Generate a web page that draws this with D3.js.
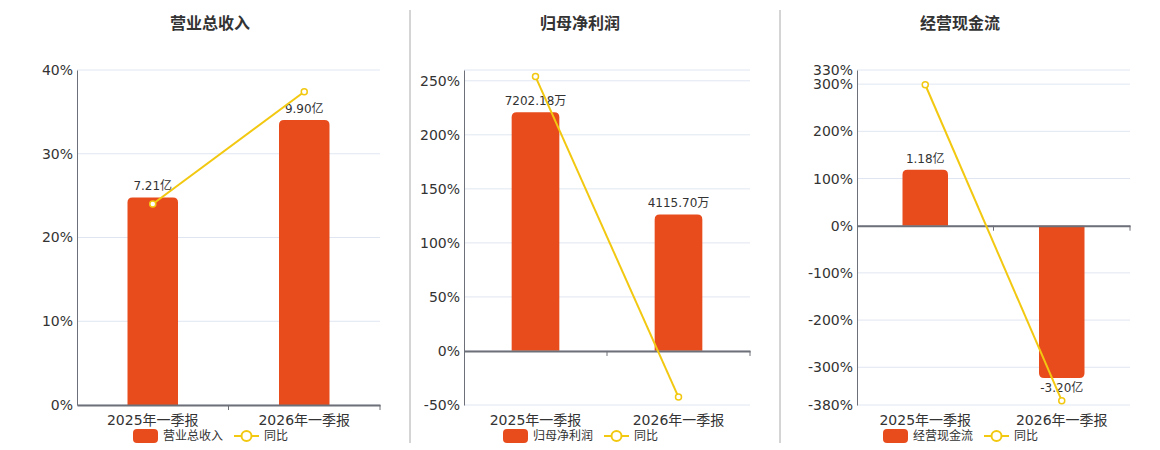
<!DOCTYPE html>
<html>
<head>
<meta charset="utf-8">
<script src="https://cdn.jsdelivr.net/npm/d3@7"></script>
<style>
  body { margin: 0; background: #fff; }
  svg { display: block; font-family: "DejaVu Sans", "Noto Sans CJK SC", sans-serif; }
</style>
</head>
<body>
<svg id="chart" width="1160" height="450"></svg>
<script>
// data
const categories = ['2025年一季报', '2026年一季报']
const titles = ['营业总收入', '归母净利润', '经营现金流']
const yoyName = '同比'

const revenueValues = [7.21, 9.90]
const revenueLabels = ['7.21亿', '9.90亿']
const revenueYoY = [24.0, 37.4]
const revenueTicks = [0, 10, 20, 30, 40]

const profitValues = [7202.18, 4115.70]
const profitLabels = ['7202.18万', '4115.70万']
const profitYoY = [253.9, -42.7]
const profitTicks = [-50, 0, 50, 100, 150, 200, 250]

const cashValues = [1.18, -3.20]
const cashLabels = ['1.18亿', '-3.20亿']
const cashYoY = [298.7, -370.9]
const cashTicks = [-380, -300, -200, -100, 0, 100, 200, 300, 330]

const BAR = '#e84c1d'
const LINE = '#f2c811'
const GRID = '#e0e6f1'
const AXIS = '#6e7079'
const TEXT = '#333'

const svg = d3.select('#chart')

// panel layout
const panels = [
	{ title: titles[0], values: revenueValues, labels: revenueLabels, yoy: revenueYoY, ticks: revenueTicks,
		pct: [0, 40], bar: [0, 11.64], x0: 77, x1: 380, cx: 210 },
	{ title: titles[1], values: profitValues, labels: profitLabels, yoy: profitYoY, ticks: profitTicks,
		pct: [-50, 260], bar: [-1640, 8475], x0: 464, x1: 750, cx: 580 },
	{ title: titles[2], values: cashValues, labels: cashLabels, yoy: cashYoY, ticks: cashTicks,
		pct: [-380, 330], bar: [-3.77, 3.28], x0: 857, x1: 1130, cx: 960 }
]
const plotTop = 70, plotBottom = 405

// separators
;[410, 780].forEach(x => {
	svg.append('line')
		.attr('x1', x).attr('x2', x).attr('y1', 10).attr('y2', 443)
		.attr('stroke', '#aaa').attr('stroke-width', 1)
})

function barPath(x, w, y0, y1, r) {
	// rounded on the far end from zero
	if (y1 < y0) {
		return `M${x},${y0}V${y1 + r}Q${x},${y1} ${x + r},${y1}H${x + w - r}Q${x + w},${y1} ${x + w},${y1 + r}V${y0}Z`
	}
	return `M${x},${y0}V${y1 - r}Q${x},${y1} ${x + r},${y1}H${x + w - r}Q${x + w},${y1} ${x + w},${y1 - r}V${y0}Z`
}

panels.forEach(p => {
	let g = svg.append('g')

	let x = d3.scaleBand().domain(categories).range([p.x0, p.x1]).paddingInner(0).paddingOuter(0)
	let yP = d3.scaleLinear().domain(p.pct).range([plotBottom, plotTop])
	let yB = d3.scaleLinear().domain(p.bar).range([plotBottom, plotTop])

	// title
	g.append('text')
		.attr('x', p.cx).attr('y', 29)
		.attr('text-anchor', 'middle')
		.attr('font-size', 16).attr('font-weight', 'bold')
		.attr('fill', TEXT)
		.text(p.title)

	// grid
	g.append('g')
		.selectAll('line')
		.data(p.ticks.concat(p.pct[1] !== p.ticks[p.ticks.length - 1] ? [p.pct[1]] : []))
		.join('line')
			.attr('x1', p.x0).attr('x2', p.x1)
			.attr('y1', d => yP(d)).attr('y2', d => yP(d))
			.attr('stroke', GRID)

	// y axis
	let yAxis = g.append('g')
		.attr('transform', `translate(${p.x0},0)`)
		.call(d3.axisLeft(yP).tickValues(p.ticks).tickFormat(d => d + '%').tickSize(0).tickPadding(4))
		.attr('font-family', null)
		.attr('font-size', 14)
	yAxis.select('.domain').attr('stroke', AXIS)
	yAxis.selectAll('text').attr('fill', TEXT)

	// bars
	let bw = x.bandwidth() / 3
	g.append('g')
		.selectAll('path')
		.data(p.values)
		.join('path')
			.attr('d', (d, i) => barPath(x(categories[i]) + (x.bandwidth() - bw) / 2, bw, yB(0), yB(d), 5))
			.attr('fill', BAR)

	// bar labels
	g.append('g')
		.attr('font-size', 12).attr('fill', TEXT).attr('text-anchor', 'middle')
		.selectAll('text')
		.data(p.values)
		.join('text')
			.attr('x', (d, i) => x(categories[i]) + x.bandwidth() / 2)
			.attr('y', d => d >= 0 ? yB(d) - 7 : yB(d) + 14)
			.text((d, i) => p.labels[i])

	// x axis at zero
	let xAxis = g.append('g')
		.attr('transform', `translate(0,${yP(0)})`)
		.call(d3.axisBottom(x).tickSize(0).tickFormat(''))
	xAxis.select('.domain').attr('stroke', AXIS).attr('stroke-width', 2)
	g.append('g')
		.selectAll('line')
		.data([x(categories[1]), p.x1])
		.join('line')
			.attr('x1', d => d).attr('x2', d => d)
			.attr('y1', yP(0)).attr('y2', yP(0) + 5)
			.attr('stroke', AXIS)

	// category labels
	g.append('g')
		.attr('font-size', 14).attr('fill', TEXT).attr('text-anchor', 'middle')
		.selectAll('text')
		.data(categories)
		.join('text')
			.attr('x', d => x(d) + x.bandwidth() / 2)
			.attr('y', 425)
			.text(d => d)

	// yoy line
	let line = d3.line()
		.x((d, i) => x(categories[i]) + x.bandwidth() / 2)
		.y(d => yP(d))
	g.append('path')
		.datum(p.yoy)
		.attr('d', line)
		.attr('fill', 'none').attr('stroke', LINE).attr('stroke-width', 2)
	g.append('g')
		.selectAll('circle')
		.data(p.yoy)
		.join('circle')
			.attr('cx', (d, i) => x(categories[i]) + x.bandwidth() / 2)
			.attr('cy', d => yP(d))
			.attr('r', 3)
			.attr('fill', '#fff').attr('stroke', LINE).attr('stroke-width', 1.5)

	// legend
	let lg = g.append('g').attr('transform', `translate(${p.cx - 77},436)`)
	lg.append('rect')
		.attr('x', 0).attr('y', -7).attr('width', 25).attr('height', 14).attr('rx', 4)
		.attr('fill', BAR)
	lg.append('text')
		.attr('x', 30).attr('y', 0).attr('dy', '0.35em')
		.attr('font-size', 12).attr('fill', TEXT)
		.text(p.title)
	lg.append('line')
		.attr('x1', 101).attr('x2', 126).attr('y1', 0).attr('y2', 0)
		.attr('stroke', LINE).attr('stroke-width', 2)
	lg.append('circle')
		.attr('cx', 113.5).attr('cy', 0).attr('r', 5)
		.attr('fill', '#fff').attr('stroke', LINE).attr('stroke-width', 2)
	lg.append('text')
		.attr('x', 131).attr('y', 0).attr('dy', '0.35em')
		.attr('font-size', 12).attr('fill', TEXT)
		.text(yoyName)
})
</script>
</body>
</html>
